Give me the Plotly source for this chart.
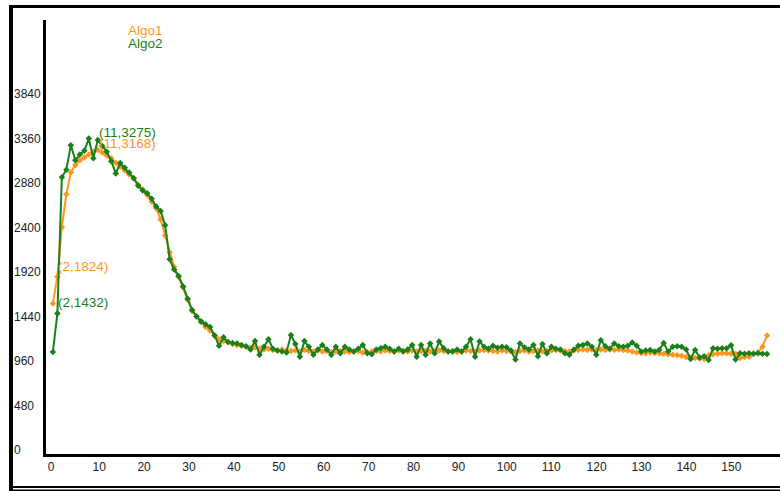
import plotly.graph_objects as go

# ---------------- data ----------------
x_index = list(range(1, 161))

algo1 = [
    1540, 1824, 2350, 2700, 2930, 3010, 3060, 3090, 3120, 3150,
    3168, 3140, 3110, 3080, 3030, 2990, 2950, 2910, 2870, 2800,
    2750, 2690, 2620, 2550, 2430, 2260, 2080, 1930, 1820, 1710,
    1580, 1460, 1400, 1340, 1290, 1250, 1200, 1160, 1140, 1130,
    1110, 1100, 1090, 1080, 1070, 1075, 1060, 1050, 1060, 1045,
    1040, 1050, 1040, 1035, 1040, 1030, 1045, 1035, 1030, 1040,
    1030, 1035, 1025, 1030, 1035, 1030, 1025, 1030, 1035, 1020,
    1025, 1030, 1035, 1030, 1040, 1035, 1030, 1040, 1035, 1030,
    1040, 1030, 1035, 1040, 1030, 1035, 1040, 1035, 1030, 1035,
    1025, 1030, 1040, 1035, 1030, 1040, 1045, 1040, 1035, 1030,
    1040, 1035, 1030, 1025, 1035, 1040, 1030, 1035, 1040, 1030,
    1035, 1040, 1045, 1040, 1035, 1030, 1040, 1045, 1050, 1045,
    1050, 1045, 1050, 1045, 1050, 1045, 1050, 1045, 1040, 1030,
    1020, 1015, 1010, 1020, 1015, 1010, 1005, 1000, 995, 990,
    985, 970, 965, 960, 955, 950, 990, 1000, 1005, 1010,
    1010, 1005, 1005, 960, 970, 975, 1005, 1020, 1080, 1200,
]

algo2 = [
    1025, 1432, 2880, 2960, 3220, 3060, 3120, 3160, 3290, 3080,
    3275, 3210, 3150, 3050, 2920, 3030, 2980, 2930, 2870, 2790,
    2740, 2710, 2650, 2570, 2520, 2370, 2010, 1900, 1830, 1720,
    1590, 1470, 1400, 1350, 1320, 1290, 1200, 1090, 1180, 1130,
    1120, 1115, 1100, 1085, 1050, 1140, 995, 1080, 1160, 1060,
    1040, 1030, 1020, 1205, 1110, 975, 1140, 1080, 995, 1050,
    1100, 1050, 995, 1080, 1010, 1080, 1050, 1030, 1060, 1100,
    1010, 1000, 1050, 1065, 1080, 1060, 1030, 1060, 1030, 1050,
    1100, 975, 1100, 995, 1115, 1010, 1135, 1065, 1030, 1030,
    1050, 1030, 1080, 1160, 975, 1135, 1080, 1060, 1090, 1070,
    1080, 1075, 1040, 945, 1115, 1075, 1050, 1100, 980, 1110,
    1010, 1080, 1060, 1050, 1010, 995, 1050, 1090, 1100, 1115,
    1080, 995, 1150, 1085, 1060, 1115, 1085, 1080, 1090, 1125,
    1090, 1030, 1040, 1045, 1030, 1045, 1120, 1030, 1080, 1085,
    1080, 1050, 950, 1045, 965, 980, 940, 1065, 1060, 1065,
    1065, 1095, 945, 1010, 1005, 1010, 1005, 1010, 1005, 1003,
]

x_ticks = list(range(0, 160, 10))
y_ticks = [0, 480, 960, 1440, 1920, 2400, 2880, 3360, 3840]

series_names = ["Algo1", "Algo2"]
series_colors = ["#FF961E", "#1A801A"]

# labelled points: (series, index)
labelled = [(0, 2), (1, 2), (0, 11), (1, 11)]

# ---------------- figure ----------------
W, H = 780, 491
ML, MT, MB = 10, 20, 37
PLOT_L = 46
dom0 = (PLOT_L - ML) / (W - ML)

fig = go.Figure()
for name, vals, col in zip(series_names, [algo1, algo2], series_colors):
    fig.add_trace(go.Scatter(
        x=x_index, y=vals, mode="lines+markers", name=name,
        line=dict(color=col, width=2),
        marker=dict(color=col, size=5, symbol="diamond"),
        showlegend=False, hoverinfo="x+y",
    ))
# empty trace so the label axis (y2) is drawn
fig.add_trace(go.Scatter(x=[None], y=[None], yaxis="y2", showlegend=False,
                         hoverinfo="skip", mode="lines"))

annos = []
# legend-like text
for k, (name, col) in enumerate(zip(series_names, series_colors)):
    annos.append(dict(
        xref="paper", yref="paper",
        x=(126 - ML) / (W - ML), y=(454 - (30 + 13 * k)) / (454 - MT),
        xanchor="left", yanchor="middle", text=name, showarrow=False,
        font=dict(family="Liberation Sans, Arial, sans-serif", size=13.5, color=col),
    ))

shift = {(0, 2): 10, (1, 2): 11, (0, 11): 7, (1, 11): 7}
for s, i in labelled:
    vals = [algo1, algo2][s]
    v = vals[x_index.index(i)]
    annos.append(dict(
        x=i, y=v, xref="x", yref="y", text=f"({i},{v})", showarrow=False,
        xanchor="left", yanchor="middle", yshift=shift[(s, i)], xshift=-1,
        font=dict(family="Liberation Sans, Arial, sans-serif", size=13.5,
                  color=series_colors[s]),
    ))

def px_x(p):
    return (p - ML) / (W - ML)

def px_y(p):
    return (454 - p) / (454 - MT)

shapes = [
    dict(type="line", xref="paper", yref="paper", x0=px_x(9), x1=px_x(800),
         y0=px_y(6.5), y1=px_y(6.5), line=dict(color="black", width=3)),
    dict(type="line", xref="paper", yref="paper", x0=px_x(11), x1=px_x(11),
         y0=px_y(5), y1=px_y(495), line=dict(color="black", width=4)),
    dict(type="line", xref="paper", yref="paper", x0=px_x(9), x1=px_x(800),
         y0=px_y(487), y1=px_y(487), line=dict(color="black", width=2)),
    dict(type="line", xref="paper", yref="paper", x0=px_x(9), x1=px_x(800),
         y0=px_y(490.5), y1=px_y(490.5), line=dict(color="black", width=2)),
]

tick_font = dict(family="Liberation Sans, Arial, sans-serif", size=12, color="#222222")

fig.update_layout(
    width=W, height=H,
    margin=dict(l=ML, r=0, t=MT, b=MB, pad=0),
    paper_bgcolor="white", plot_bgcolor="white",
    xaxis=dict(
        domain=[dom0, 1], range=[-0.53, 162.9],
        tickvals=x_ticks, ticktext=[str(t) for t in x_ticks],
        ticklabelposition="outside right", ticklabelshift=-2,
        showline=True, linecolor="black", linewidth=2.5,
        showgrid=False, zeroline=False, ticks="", tickfont=tick_font,
    ),
    yaxis=dict(
        range=[-58.4, 4548.8], showticklabels=False,
        showline=True, linecolor="black", linewidth=2.5,
        showgrid=False, zeroline=False, ticks="",
    ),
    yaxis2=dict(
        overlaying="y", side="right", anchor="free", position=px_x(13),
        range=[-43.1, 4638.2], tickvals=y_ticks,
        ticktext=[str(t) for t in y_ticks],
        showline=False, showgrid=False, zeroline=False, ticks="",
        tickfont=tick_font,
    ),
    annotations=annos, shapes=shapes,
)

fig.write_html(
    "out.html",
    config={"displayModeBar": False},
    post_script="document.body.style.margin='0';document.body.style.padding='0';",
)
